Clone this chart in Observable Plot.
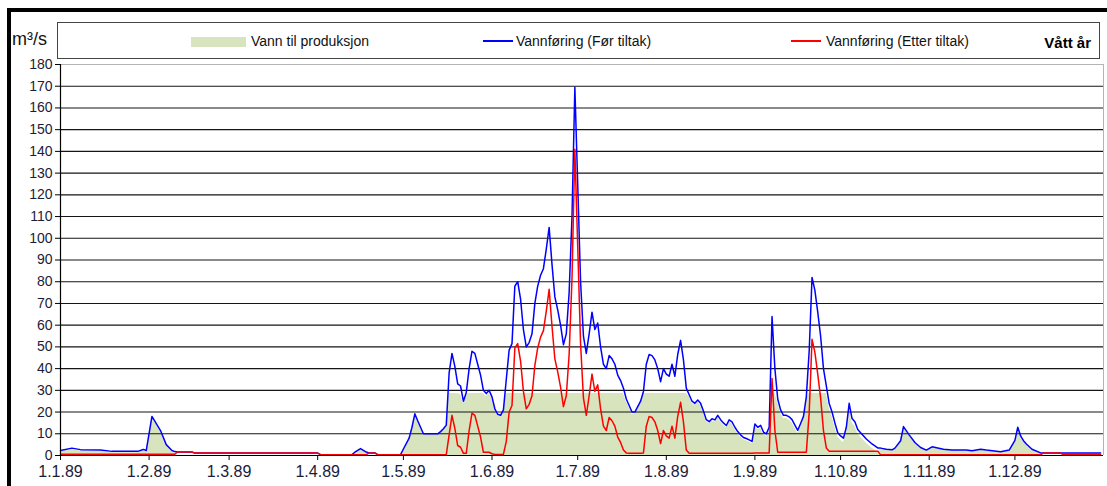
<!DOCTYPE html>
<html>
<head>
<meta charset="utf-8">
<script src="https://cdn.jsdelivr.net/npm/d3@7"></script>
<script src="https://cdn.jsdelivr.net/npm/@observablehq/plot@0.6"></script>
<style>
  body { margin: 0; background: #fff; }
  #wrap { position: relative; width: 1107px; height: 486px; overflow: hidden; background: #fff;
          font-family: "Liberation Sans", Arial, sans-serif; }
  #frame { position: absolute; left: 7px; top: 8px; width: 1300px; height: 700px;
           border-left: 4px solid #000; border-top: 4px solid #000; }
  #unit { position: absolute; left: 12px; top: 30px; font-size: 18px; line-height: 1; color: #111; }
  #legend { position: absolute; left: 57px; top: 22px; width: 1043px; height: 37px;
            border: 1px solid #444; box-sizing: border-box; }
  .sw { position: absolute; }
  .lt { position: absolute; top: 11px; font-size: 14px; line-height: 1; color: #111; white-space: nowrap; }
  #tag { position: absolute; right: 8px; top: 12px; font-size: 15px; font-weight: bold; line-height: 1; color: #000; }
  #chart { position: absolute; left: 0; top: 50px; }
</style>
</head>
<body>
<div id="wrap">
  <div id="frame"></div>
  <div id="unit">m³/s</div>
  <div id="legend"></div>
  <div id="chart"></div>
</div>
<script>
// ---- data (day of year 1989, 0 = 1 Jan) ----
const dayIndex = [0,4,7,14,18,27,29,30,32,35,37,39,40,41,46,47,90,91,102,103,105,107,108,110,111,119,120,122,123,124,125,126,127,132,133,134,135,
  136,137,138,139,140,141,142,143,144,145,146,147,148,149,150,151,152,153,154,155,156,157,158,159,160,
  161,162,163,164,165,166,167,168,169,170,171,172,173,174,175,176,177,178,179,180,181,182,183,184,185,
  186,187,188,189,190,191,192,193,194,195,196,197,198,199,200,201,202,203,204,205,206,207,208,209,210,
  211,212,213,214,215,216,217,218,219,220,221,222,223,224,225,226,227,228,229,230,231,232,233,234,235,
  236,237,238,239,240,241,242,243,244,245,246,247,248,249,250,251,252,253,254,255,256,257,258,259,260,
  261,262,263,264,265,266,267,268,269,270,271,272,273,274,275,276,277,278,279,280,
  282,284,286,287,289,291,292,294,295,297,299,301,303,305,309,312,317,319,322,324,329,332,334,335,336,337,338,340,343,344,350,351,364];

// Vannføring (Før tiltak)
const flowBefore = [2.3,3.4,2.7,2.5,1.9,1.9,2.8,2.3,18,11.5,5,2.3,1.8,1.6,1.6,1.1,1.1,0.4,0.4,1.5,3.2,1.6,1.2,1.2,0.4,0.4,3,8,13,19.2,16,13,10,10,11,12.3,14,
  38,47,41,33,32,25,29,40,48,47,42,37,30,28.5,30,27,21.5,19,18.5,21,35,48.5,51.5,78,80,
  72,58,50,52,56,70,78,83,86,95,105,88,73,67,60,51,56,75,110,169.5,125,80,55,47,56,
  66,58,61,50,42,40,46,44.5,42,37,34.5,31,26,23,20,20,22.5,25,29.5,42,46.5,46,44,40,34,
  40,37.5,36.5,42,36.5,46.5,53,44,31,28,25,24,25.5,24,20.5,16.5,15.6,16.9,16.4,18.5,16.5,15,13.8,16.4,15.5,
  13,11,9.5,8.3,7.8,7.2,6.5,14.5,13,13.9,10.8,10,13,64,40,26,21,18.5,18.5,17.8,16.5,14,11.6,14.7,18,
  27,48,82,76,66,55,40,32,24,20,15,10.5,9,8,13,24,17,15.5,12,10.5,
  7.6,5.3,3.5,3.4,2.9,2.6,3.4,6.8,13.3,9.5,6,3.7,2.5,4,2.9,2.5,2.5,2.2,2.9,2.5,1.7,2.5,7,13,9,6.8,5.3,2.9,1.2,1.2,1.2,1.2,1.2];

// Vannføring (Etter tiltak)
const flowAfter = [0.6,0.6,0.6,0.6,0.6,0.6,0.6,0.6,0.6,0.6,0.6,0.6,0.6,1.6,1.6,1.1,1.1,0.4,0.4,0.4,0.4,0.4,1.2,1.2,0.4,0.4,0.4,0.4,0.4,0.4,0.4,0.4,0.4,0.4,0.4,0.4,0.4,
  9.5,18.5,12.5,4.6,3.8,1,1,11.5,19.5,18.5,13.5,8.5,1.5,1.5,1.5,0.8,0.5,0.5,0.5,0.5,6.5,20,23,49.5,51.5,
  43.5,29.5,21.5,23.5,27.5,41.5,49.5,54.5,57.5,66.5,76.5,59.5,44.5,38.5,31.5,22.5,27.5,46.5,81.5,141,96.5,51.5,26.5,18.5,27.5,
  37.5,29.5,32.5,21.5,13.5,11.5,17.5,16,13.5,8.5,6,2.5,1.2,1,1,1,1,1,1.2,13.5,18,17.5,15.5,11.5,5.5,
  11.5,9,8,13.5,8,18,24.5,15.5,2.5,1,1,1,1,1,1,1,1,1,1,1,1,1,1,1,1,
  1,1,1,1,1,1,1,1.2,1.2,1.2,1.2,1.2,1.2,35.5,11.5,1.5,1.5,1.5,1.5,1.5,1.5,1.5,1.5,1.5,1.5,
  1.5,19.5,53.5,47.5,37.5,26.5,11.5,3.5,2,2,2,2,2,2,2,2,2,2,2,2,
  2,2,2,0.3,0.3,0.3,0.3,0.3,0.3,0.3,0.3,0.3,0.3,0.3,0.3,0.3,0.3,0.3,0.3,0.3,0.3,0.3,0.3,0.3,0.3,0.3,0.3,0.3,0.3,1.2,1.2,0.3,0.3];

const seriesNames = ["Vann til produksjon", "Vannføring (Før tiltak)", "Vannføring (Etter tiltak)"];
const seriesColors = ["#d7e4bd", "#0000ff", "#ff0000"];
const yTicks = [0,10,20,30,40,50,60,70,80,90,100,110,120,130,140,150,160,170,180];
const monthLabels = ["1.1.89","1.2.89","1.3.89","1.4.89","1.5.89","1.6.89","1.7.89","1.8.89","1.9.89","1.10.89","1.11.89","1.12.89"];
const unitLabel = "m³/s";
const yearTag = "Vått år";

// ---- build ----
const t0 = Date.UTC(1989, 0, 1);
const rows = dayIndex.map((d, i) => ({
  date: new Date(t0 + d * 864e5),
  before: flowBefore[i],
  after: flowAfter[i],
  prod: flowBefore[i] - flowAfter[i]
}));
const monthStarts = monthLabels.map((_, m) => new Date(Date.UTC(1989, m, 1)));
const xStart = new Date(t0), xEnd = new Date(Date.UTC(1990, 0, 1));

// legend
const lg = document.getElementById("legend");
const lx = [[133, 55, 193], [425, 30, 458], [733, 30, 768]];
seriesNames.forEach((name, i) => {
  const sw = document.createElement("div");
  sw.className = "sw";
  sw.style.left = lx[i][0] + "px";
  sw.style.width = lx[i][1] + "px";
  if (i === 0) { sw.style.top = "14px"; sw.style.height = "10px"; }
  else { sw.style.top = "17px"; sw.style.height = "1.5px"; }
  sw.style.background = seriesColors[i];
  lg.appendChild(sw);
  const t = document.createElement("div");
  t.className = "lt";
  t.style.left = lx[i][2] + "px";
  t.textContent = name;
  lg.appendChild(t);
});
const tag = document.createElement("div");
tag.id = "tag"; tag.textContent = yearTag; lg.appendChild(tag);
document.getElementById("unit").textContent = unitLabel;

const chart = Plot.plot({
  width: 1107, height: 436,
  marginLeft: 60, marginRight: 4, marginTop: 14, marginBottom: 31,
  style: { fontFamily: "'Liberation Sans', Arial, sans-serif", background: "transparent" },
  x: { type: "utc", domain: [xStart, xEnd] },
  y: { domain: [0, 180] },
  marks: [
    Plot.areaY(rows, { x: "date", y: "prod", fill: seriesColors[0] }),
    Plot.ruleY(yTicks.filter(v => v > 0 && v < 180), { stroke: "#151515", strokeWidth: 1.1 }),
    Plot.ruleY([180], { stroke: "#b4b4b4" }),
    Plot.ruleX([xEnd], { stroke: "#b4b4b4" }),
    Plot.lineY(rows, { x: "date", y: "before", stroke: seriesColors[1], strokeWidth: 1.5 }),
    Plot.lineY(rows, { x: "date", y: "after", stroke: seriesColors[2], strokeWidth: 1.5 }),
    Plot.ruleX([xStart], { stroke: "#000", strokeWidth: 1.2 }),
    Plot.ruleY([0], { stroke: "#000", strokeWidth: 1.2 }),
    Plot.axisY({ ticks: yTicks, tickSize: 5, tickPadding: 3, label: null, fontSize: 14,
                 fill: "#1c1c3a", stroke: "#000", tickFormat: d => String(d) }),
    Plot.axisX({ ticks: monthStarts, tickSize: 5, tickPadding: 5, label: null, fontSize: 16,
                 fill: "#1c1c3a", stroke: "#000", tickFormat: d => monthLabels[d.getUTCMonth()] })
  ]
});
document.getElementById("chart").appendChild(chart);
</script>
</body>
</html>
